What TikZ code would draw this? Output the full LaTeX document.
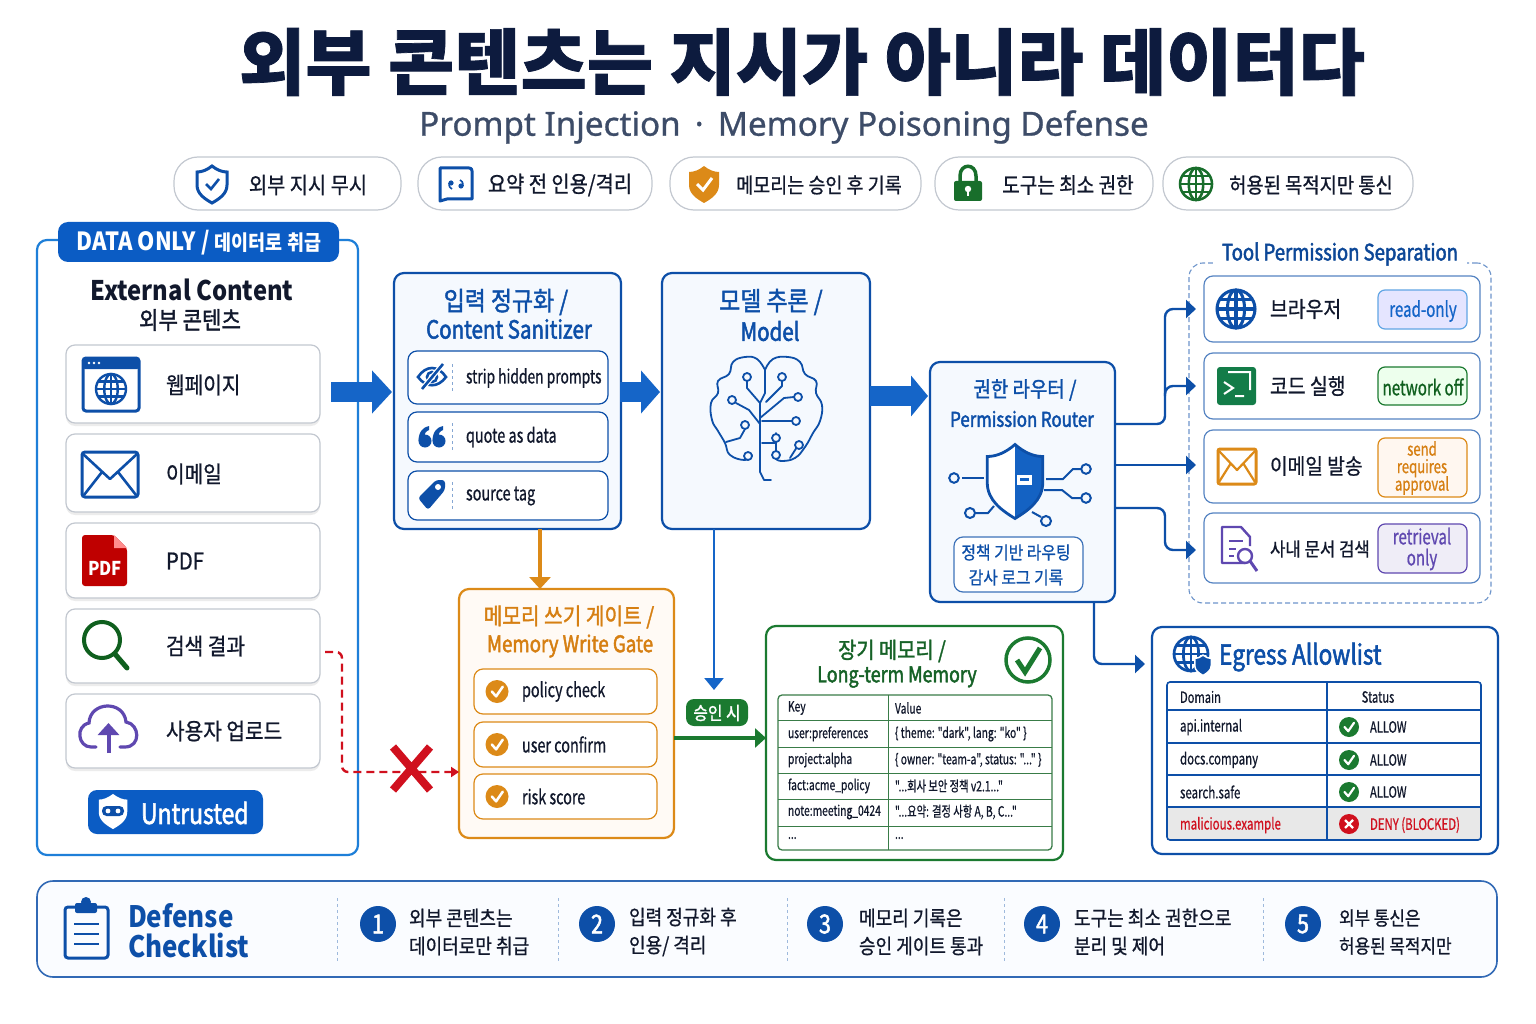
\documentclass[tikz,border=0pt]{standalone}
\usepackage{fontspec}
\setmainfont{Noto Sans CJK KR}[FakeStretch=0.88,FakeBold=0.8,BoldFeatures={FakeBold=0}]
\newfontfamily\titlekr{Noto Sans CJK KR}[FakeBold=1]
\newfontfamily\subfont{Noto Sans}[FakeBold=0.8]
\newfontfamily\nar{Noto Sans CJK KR}[FakeStretch=0.72,FakeBold=0.7]
\newfontfamily\hd{Noto Sans CJK KR}[FakeStretch=0.82,FakeBold=2]
\newfontfamily\hk{Noto Sans CJK KR}[FakeStretch=0.88,FakeBold=1.5]
\usetikzlibrary{arrows.meta,shadows,calc}
\definecolor{ink}{HTML}{11182C}
\definecolor{navy}{HTML}{0D1B3E}
\definecolor{slate}{HTML}{3D4C68}
\definecolor{brand}{HTML}{0D4FA8}
\definecolor{bright}{HTML}{1E7FD8}
\definecolor{solid}{HTML}{0B5CC4}
\definecolor{flowblue}{HTML}{1565C8}
\definecolor{orng}{HTML}{DC8A18}
\definecolor{orngtxt}{HTML}{D67F12}
\definecolor{leaf}{HTML}{1B7A30}
\definecolor{deep}{HTML}{0F5F1E}
\definecolor{vio}{HTML}{5F48B0}
\definecolor{stop}{HTML}{D0101E}
\definecolor{paleb}{HTML}{F5F9FE}
\definecolor{grayline}{HTML}{C3C8D0}
\newcommand{\fsz}[2]{\fontsize{#1}{#2}\selectfont}
\newcommand{\tightlines}{\setlength{\lineskiplimit}{-30pt}}
\newcommand{\rbox}[6]{\node[#1,minimum width={(#5-#3)*1pt},minimum height={(#6-#4)*1pt}] (#2) at ({(#3+#5)/2},{(#4+#6)/2}) {};}
\tikzset{
  every node/.style={inner sep=0pt,outer sep=0pt},
  pill/.style={draw=grayline,line width=1.2pt,fill=white,rounded corners=24pt},
  srcitem/.style={draw=grayline,line width=1.2pt,fill=white,rounded corners=9pt,
    drop shadow={shadow xshift=0pt,shadow yshift=-3pt,opacity=.12,fill=black!60}},
  panel/.style={draw=#1,line width=2.2pt,rounded corners=10pt},
  inner/.style={draw=#1,line width=1.2pt,rounded corners=9pt},
  badge/.style n args={2}{draw=#1,fill=#2,line width=1.2pt,rounded corners=7pt},
  lefttxt/.style={anchor=west,text=ink},
  bigflow/.style={line width=20pt,draw=flowblue,shorten >=2pt,-{Triangle[width=42pt,length=20pt]}},
  flow/.style={line width=2.4pt,draw=brand,rounded corners=8pt,-{Triangle[width=18pt,length=10pt]}},
  tline/.style={line width=1pt},
  celltxt/.style={lefttxt,font=\nar\fsz{14.3}{15}},
  shieldshape/.style={insert path={(0,-18) .. controls (5,-14) and (10,-12) .. (15,-12) -- (15,1)
    .. controls (15,10) and (7,15) .. (0,19) .. controls (-7,15) and (-15,10) .. (-15,1) -- (-15,-12)
    .. controls (-10,-12) and (-5,-14) .. (0,-18) -- cycle}},
}
\newcommand{\globeicon}[4]{\begin{scope}[shift={(#1,#2)},draw=#4,line width=#3*0.16pt]
  \draw (0,0) circle[radius=#3];
  \draw (0,0) ellipse[x radius=#3*0.45,y radius=#3];
  \draw (-#3,0) -- (#3,0);
  \draw (0,-#3) -- (0,#3);
  \draw (-#3*0.87,-#3*0.5) -- (#3*0.87,-#3*0.5);
  \draw (-#3*0.87,#3*0.5) -- (#3*0.87,#3*0.5);
\end{scope}}
\newcommand{\chkdisc}[4]{\fill[#4] (#1,#2) circle[radius=#3];
  \draw[white,line width=#3*0.22pt,line cap=round,line join=round] (#1-#3*0.45,#2) -- (#1-#3*0.08,#2+#3*0.42) -- (#1+#3*0.5,#2-#3*0.42);}
\begin{document}
\begin{tikzpicture}[x=1pt,y=-1pt]
  \useasboundingbox (0,0) rectangle (1536,1024);
  \fill[white] (0,0) rectangle (1536,1024);
  % title
  \node[text=navy,font=\titlekr\bfseries\fsz{72}{72}] (title) at (802,62) {외부 콘텐츠는 지시가 아니라 데이터다};
  \node[text=slate,font=\subfont\fsz{33.2}{36}] (subtitle) at (784,127) {Prompt Injection \,·\, Memory Poisoning Defense};
  % pills
  \rbox{pill}{pilla}{174}{157}{401}{210}
  \rbox{pill}{pillb}{418}{157}{652}{210}
  \rbox{pill}{pillc}{670}{157}{921}{210}
  \rbox{pill}{pilld}{935}{157}{1153}{210}
  \rbox{pill}{pille}{1163}{157}{1413}{210}
  \foreach \nm/\x/\sz/\txt in {a/308/22.5/외부 지시 무시,b/560/22.5/{요약 전 인용/격리},c/819/21/메모리는 승인 후 기록,d/1068/21.7/도구는 최소 권한,e/1311/21.3/허용된 목적지만 통신}
    \node[text=ink,font=\fsz{\sz}{24}] (pilltxt\nm) at (\x,185) {\txt};
  \begin{scope}[shift={(212,184)}]
    \draw[brand,line width=3pt,shieldshape];
    \draw[brand,line width=2.6pt] (-6,0) -- (-1,5) -- (7,-5);
  \end{scope}
  \begin{scope}[shift={(456,184)}]
    \draw[brand,line width=3pt,line join=round] (-14,-16) -- (13,-16) .. controls (15,-16) and (16,-15) .. (16,-13) -- (16,15) -- (-9,15) -- (-16,17) -- (-16,-16) -- cycle;
    \fill[brand] (-5,-1) circle[radius=2.6] (5,2) circle[radius=2.6];
    \draw[brand,line width=1.6pt] (-7,-1) .. controls (-7,3) and (-6,4) .. (-4,5);
    \draw[brand,line width=1.6pt] (7,2) .. controls (7,-2) and (6,-3) .. (4,-4);
  \end{scope}
  \begin{scope}[shift={(704,184)}]
    \fill[orng,shieldshape];
    \draw[white,line width=3pt] (-7,0) -- (-1,6) -- (8,-6);
  \end{scope}
  \begin{scope}[shift={(968,184)}]
    \draw[leaf!90!black,line width=3.5pt] (-8,0) -- (-8,-8) .. controls (-8,-21) and (8,-21) .. (8,-8) -- (8,0);
    \fill[leaf!90!black,rounded corners=2pt] (-14,-3) rectangle (14,17);
    \fill[white] (0,5) circle[radius=3.2];
    \fill[white] (-1.2,5) rectangle (1.2,12);
  \end{scope}
  \globeicon{1196}{184}{16}{leaf!90!black}
  % external content panel
  \rbox{panel=bright,fill=white}{extpanel}{37}{240}{358}{855}
  \rbox{fill=solid,rounded corners=10pt}{extbadge}{58}{222}{339}{262}
  \node[text=white,font=\bfseries\fsz{25}{26}] (extbadgetxt) at (199,243) {DATA ONLY / {\fsz{21}{26}데이터로 취급}};
  \node[text=ink,font=\bfseries\fsz{27}{30}] (exttitle) at (192,290) {External Content};
  \node[text=ink,font=\hk\fsz{24}{26}] (exttitlekr) at (190,320) {외부 콘텐츠};
  \rbox{srcitem}{webitem}{66}{345}{320}{423}
  \rbox{srcitem}{mailitem}{66}{434}{320}{512}
  \rbox{srcitem}{pdfitem}{66}{523}{320}{598}
  \rbox{srcitem}{searchitem}{66}{609}{320}{683}
  \rbox{srcitem}{uploaditem}{66}{694}{320}{768}
  \foreach \nm/\y/\txt in {web/385/웹페이지,mail/474/이메일,pdf/561/PDF,search/646/검색 결과,upload/731/사용자 업로드}
    \node[lefttxt,font=\fsz{23}{26}] (\nm txt) at (166,\y) {\txt};
  \draw[brand,line width=3pt,rounded corners=3pt] (83,358) rectangle (139,411);
  \fill[brand,rounded corners=2pt] (83,358) rectangle (139,369);
  \fill[white] (89,363) circle[radius=1.4] (94,363) circle[radius=1.4] (99,363) circle[radius=1.4];
  \globeicon{111}{389}{15}{brand}
  \draw[brand,line width=3pt,rounded corners=3pt] (82,452) rectangle (138,497);
  \draw[brand,line width=2.6pt,line join=round] (83,454) -- (110,479) -- (137,454) (84,495) -- (102,472) (136,495) -- (118,472);
  \fill[red!75!black,rounded corners=3pt] (82,535) -- (114,535) -- (127,548) -- (127,586) -- (82,586) -- cycle;
  \fill[red!45!white] (114,535) -- (127,548) -- (114,548) -- cycle;
  \node[text=white,font=\bfseries\fsz{19}{20}] (pdfmark) at (105,568) {PDF};
  \draw[deep,line width=4pt] (102,640) circle[radius=18];
  \draw[deep,line width=5pt,line cap=round] (115,654) -- (127,668);
  \draw[vio,line width=3.2pt,line cap=round] (96,747) -- (91,747) .. controls (78,747) and (75,726) .. (89,723) .. controls (90,701) and (124,700) .. (126,722) .. controls (140,724) and (141,747) .. (125,747) -- (120,747);
  \draw[vio,line width=4pt,-{Triangle[width=21pt,length=12pt]}] (108.5,753) -- (108.5,723);
  \rbox{fill=solid,rounded corners=9pt}{untrusted}{88}{790}{263}{834}
  \fill[white,shift={(113,811)},xscale=.95,yscale=.95,shieldshape];
  \fill[brand,rounded corners=4.5pt] (102,806) rectangle (124,816);
  \fill[white] (108,811) circle[radius=2.4] (118,811) circle[radius=2.4];
  \node[lefttxt,text=white,font=\hd\fsz{28}{28}] (untrustedtxt) at (141,813) {Untrusted};
  % sanitizer, model and router
  \rbox{panel=brand,fill=paleb}{sanit}{394}{273}{621}{529}
  \node[text=brand,font=\hk\fsz{26}{28}] (sanitkr) at (506,302) {입력 정규화 /};
  \node[text=brand,font=\hd\fsz{25}{28}] (sanitlat) at (509,329) {Content Sanitizer};
  \rbox{inner=brand,fill=white}{stripitem}{408}{351}{608}{404}
  \rbox{inner=brand,fill=white}{quoteitem}{408}{412}{608}{462}
  \rbox{inner=brand,fill=white}{tagitem}{408}{471}{608}{520}
  \foreach \nm/\y/\sz/\txt in {strip/378/19.2/strip hidden prompts,quote/437/20/quote as data,tag/496/20/source tag} {
    \node[lefttxt,font=\nar\fsz{\sz}{22}] (\nm txt) at (466,\y) {\txt};
    \draw[brand!50,dashed,line width=.8pt] (452,\y-14) -- (452,\y+14);
  }
  \begin{scope}[shift={(432,376)},brand,line width=2.6pt]
    \draw (-14,1) .. controls (-6,-11) and (6,-11) .. (14,1) .. controls (6,12) and (-6,12) .. (-14,1) -- cycle;
    \draw (0,1) circle[radius=5];
    \draw[white,line width=5pt] (-10,13) -- (11,-12);
    \draw (-10,13) -- (11,-12);
  \end{scope}
  \begin{scope}[shift={(432,436)},brand]
    \fill (-7,5) circle[radius=6.5] (7,5) circle[radius=6.5];
    \fill (-13.5,5) .. controls (-13.5,-4) and (-9,-9) .. (-3,-10) -- (-3,-6) .. controls (-6,-5) and (-8,-2) .. (-7,0) -- cycle;
    \fill (0.5,5) .. controls (0.5,-4) and (5,-9) .. (11,-10) -- (11,-6) .. controls (8,-5) and (6,-2) .. (7,0) -- cycle;
  \end{scope}
  \begin{scope}[shift={(432,495)}]
    \fill[brand,rounded corners=3pt] (-14,3) -- (4,-15) -- (13,-15) -- (13,-5) -- (-4,15) -- cycle;
    \fill[white] (6,-8) circle[radius=3];
  \end{scope}
  \coordinate (extout) at (331,392);
  \draw[bigflow] (extout) -- (sanit.west |- extout);
  \rbox{panel=brand,fill=paleb}{model}{662}{273}{870}{529}
  \node[text=brand,font=\hk\fsz{26}{28}] (modelkr) at (771,302) {모델 추론 /};
  \node[text=brand,font=\hd\fsz{25}{28}] (modellat) at (770,331) {Model};
  \coordinate (sanitout) at (620,392);
  \draw[bigflow,-{Triangle[width=42pt,length=19pt]}] (sanitout) -- (model.west |- sanitout);
  \begin{scope}[brand,line width=1.8pt,line cap=round,line join=round]
    \draw plot [smooth, tension=0.75] coordinates {(765,370) (757,359) (745,357) (733,362) (729,374) (718,381) (718,393) (711,403) (712,420) (718,431) (725,443) (730,455) (745,460) (752,455)};
    \draw plot [smooth, tension=0.75] coordinates {(765,370) (773,359) (788,357) (800,362) (805,374) (816,381) (816,393) (822,405) (820,421) (813,433) (805,447) (795,458) (782,461) (776,459)};
    \draw (765,370) -- (765,393) -- (760,403) -- (760,472) -- (764,480) -- (771,480);
    \draw (747,381) -- (747,388) -- (760,403);
    \draw (782,381) -- (782,386) -- (766,402);
    \draw (794,397) -- (784,398) -- (760,418);
    \draw (736,403) -- (749,410) -- (760,424);
    \draw (792,421) -- (762,421);
    \draw (745,429) -- (740,438) -- (726,442);
    \draw (776,433) -- (776,452);
    \draw (776,443) -- (762,443);
    \draw (797,447) -- (790,458);
    \foreach \cx/\cy in {747/377,782/377,732/400,798/397,796/421,745/425,748/456,776/438,776/455,799/445}
      \filldraw[fill=paleb] (\cx,\cy) circle[radius=4];
  \end{scope}
  \rbox{panel=brand,fill=paleb}{router}{930}{362}{1115}{602}
  \node[text=brand,font=\hk\fsz{21.5}{28}] (routerkr) at (1025,390) {권한 라우터 /};
  \node[text=brand,font=\hd\fsz{20.5}{28}] (routerlat) at (1022,419) {Permission Router};
  \coordinate (modelout) at (870,396);
  \draw[bigflow,-{Triangle[width=40pt,length=17pt]}] (modelout) -- (router.west |- modelout);
  \begin{scope}[shift={(1015,480.5)},xscale=1.85,yscale=2]
    \fill[white,shieldshape];
    \begin{scope}
      \clip (0,-20) rectangle (20,22);
      \fill[flowblue!85!brand,shieldshape];
    \end{scope}
    \draw[brand,line width=2.8pt,shieldshape];
    \fill[white] (1.2,-3) -- (9,-3) -- (9,2) -- (1.2,2) -- cycle;
    \fill[flowblue!85!brand] (2.5,-1.2) rectangle (7.5,0.2);
  \end{scope}
  \begin{scope}[brand,line width=2pt]
    \draw (962,478) -- (984,478);
    \draw (954,478) circle[radius=4.8];
    \draw (1046,479) -- (1063,479) -- (1073,469) -- (1081,469);
    \draw (1086,469) circle[radius=4.8];
    \draw (1044,490) -- (1062,490) -- (1072,498) -- (1081,498);
    \draw (1086,498) circle[radius=4.8];
    \draw (976,513) -- (988,513) -- (994,506);
    \draw (970,513) circle[radius=5];
    \draw (1032,512) -- (1041,517);
    \draw (1046,521) circle[radius=5];
  \end{scope}
  \rbox{inner=brand!80,fill=white}{policy}{954}{537}{1083}{592}
  \node[text=brand,align=center,font=\fsz{18}{25}] (policytxt) at (1016,565) {정책 기반 라우팅\\감사 로그 기록};
  % tool permissions
  \rbox{draw=brand!60,dash pattern=on 5pt off 3pt,line width=1.1pt,rounded corners=14pt}{toolgroup}{1189}{263}{1491}{603}
  \node[fill=white,inner xsep=9pt,inner ysep=2pt,text=brand!90!black,font=\hd\fsz{22.6}{25}] (tooltitle) at (1340,254) {Tool Permission Separation};
  \rbox{inner=brand!70,fill=white}{browser}{1204}{276}{1480}{342}
  \rbox{inner=brand!70,fill=white}{coderun}{1204}{353}{1480}{419}
  \rbox{inner=brand!70,fill=white}{mailsend}{1204}{430}{1480}{503}
  \rbox{inner=brand!70,fill=white}{docsearch}{1204}{513}{1480}{583}
  \foreach \nm/\y/\sz/\txt in {browser/309/22/브라우저,coderun/386/22/코드 실행,mailsend/466/21.8/이메일 발송,docsearch/549/19/사내 문서 검색}
    \node[lefttxt,font=\fsz{\sz}{25}] (\nm txt) at (1270,\y) {\txt};
  \rbox{badge={bright!70}{blue!10!white}}{readbadge}{1378}{290}{1467}{329}
  \rbox{badge={leaf}{green!7!white}}{netbadge}{1378}{367}{1467}{405}
  \rbox{badge={orng}{orange!6!white}}{sendbadge}{1378}{438}{1467}{497}
  \rbox{badge={vio}{vio!10!white}}{retrbadge}{1378}{524}{1467}{573}
  \node[text=flowblue,font=\nar\fsz{21}{22}] (readtxt) at (1423,311) {read-only};
  \node[text=deep,font=\nar\fsz{21}{22}] (nettxt) at (1423,387) {network off};
  \node[text=orngtxt,align=center,font=\nar\fsz{18.2}{17.5}\tightlines] (sendtxt) at (1422,468) {send\\requires\\approval};
  \node[text=vio,align=center,font=\nar\fsz{21}{21}\tightlines] (retrtxt) at (1422,549) {retrieval\\only};
  \globeicon{1236}{309}{19}{brand}
  \fill[leaf!70!teal,rounded corners=3pt] (1217,367) rectangle (1256,405);
  \draw[white,line width=2pt] (1224,382) -- (1233,388) -- (1224,394) (1235,396) -- (1244,396) (1228,372) -- (1250,372) -- (1250,390);
  \draw[orng,line width=3pt,rounded corners=2pt] (1218,449) rectangle (1256,484);
  \draw[orng,line width=2.2pt,line join=round] (1219,451) -- (1237,470) -- (1255,451) (1219,482) -- (1231,463) (1255,482) -- (1243,463);
  \draw[vio,line width=2.4pt,line join=round] (1245,563) -- (1222,563) -- (1222,527) -- (1241,527) -- (1250,537) -- (1250,546);
  \draw[vio,line width=2pt] (1229,541) -- (1243,541) (1229,549) -- (1236,549) (1229,556) -- (1234,556);
  \draw[vio,line width=2.4pt] (1245,556) circle[radius=7];
  \draw[vio,line width=3pt] (1250,561) -- (1257,571);
  \coordinate (routera) at (1115,424);
  \coordinate (routerb) at (1115,465);
  \coordinate (routerc) at (1115,508);
  \coordinate (busup) at (1165,330);
  \coordinate (busmid) at (1165,396);
  \coordinate (busdown) at (1165,530);
  \draw[flow,shorten >=8pt] (routera) -| (busup) |- (browser.west);
  \draw[flow,shorten >=8pt] (busmid) |- (coderun.west);
  \draw[flow,shorten >=8pt] (routerb) -- (mailsend.west |- routerb);
  \draw[flow,shorten >=8pt] (routerc) -| (busdown) |- (docsearch.west |- 0,550);
  % memory gate
  \rbox{panel=orng,fill=orange!4!white}{gate}{459}{589}{674}{838}
  \node[text=orngtxt,font=\hk\fsz{23}{26}] (gatekr) at (569,617) {메모리 쓰기 게이트 /};
  \node[text=orngtxt,font=\hd\fsz{22.8}{26}] (gatelat) at (570,646) {Memory Write Gate};
  \foreach \nm/\ya/\yb/\ym/\txt in {pol/669/714/691.5/policy check,usr/722/767/744.5/user confirm,rsk/774/819/796.5/risk score} {
    \rbox{inner=orng,fill=white}{\nm item}{474}{\ya}{657}{\yb}
    \chkdisc{497}{\ym}{11.5}{orng}
    \node[lefttxt,font=\nar\fsz{20}{22}] (\nm txt) at (522,\ym) {\txt};
  }
  \coordinate (sanitdown) at (540,529);
  \draw[orng,line width=3.5pt,-{Triangle[width=21pt,length=12pt]}] (sanitdown) -- (gate.north -| sanitdown);
  % blocked path
  \coordinate (blockstart) at (325,652);
  \coordinate (blockbend) at (342,772);
  \coordinate (gatein) at (459,772);
  \draw[stop,line width=2.4pt,dash pattern=on 8pt off 5pt,rounded corners=6pt,-{Triangle[width=10pt,length=8pt]}] (blockstart) -| (blockbend) -- (gatein);
  \draw[stop,line width=8pt] (393,747) -- (430,790) (430,747) -- (393,790);
  % long-term memory
  \rbox{panel=leaf,fill=white}{memory}{766}{626}{1063}{860}
  \node[text=leaf!80!black,font=\hk\fsz{22.5}{26}] (memorykr) at (892,651) {장기 메모리 /};
  \node[text=leaf!80!black,font=\hd\fsz{21.8}{26}] (memorylat) at (897,677) {Long-term Memory};
  \draw[leaf,line width=3.5pt] (1028,660) circle[radius=22];
  \draw[leaf,line width=5pt] (1017,660) -- (1025,672) -- (1040,648);
  \coordinate (modeldown) at (714,529);
  \coordinate (approvetop) at (714,690);
  \draw[flowblue,line width=2.4pt,-{Triangle[width=19pt,length=12pt]}] (modeldown) -- (approvetop);
  \rbox{fill=leaf,rounded corners=8pt}{approve}{686}{699}{748}{726}
  \node[text=white,font=\hk\fsz{18}{20}] (approvetxt) at (717,713) {승인 시};
  \coordinate (gateout) at (gate.east |- 0,738);
  \draw[leaf,line width=4.5pt,-{Triangle[width=19pt,length=11pt]}] (gateout) -- (memory.west |- gateout);
  \rbox{draw=leaf!70!gray,line width=1.3pt,rounded corners=4pt}{memtable}{778}{695}{1052}{850}
  \foreach \y in {720,747,773,799,826}
    \draw[leaf!70!gray,tline] (778,\y) -- (1052,\y);
  \draw[leaf!70!gray,tline] (888,695) -- (888,850);
  \node[celltxt] (keya) at (788,708) {Key};
  \node[celltxt] (vala) at (895,708) {Value};
  \node[celltxt] (keyb) at (788,734) {user:preferences};
  \node[celltxt] (valb) at (895,734) {\{ theme: "dark", lang: "ko" \}};
  \node[celltxt] (keyc) at (788,760) {project:alpha};
  \node[celltxt] (valc) at (895,760) {\{ owner: "team-a", status: "..." \}};
  \node[celltxt] (keyd) at (788,786) {fact:acme\_policy};
  \node[celltxt] (vald) at (895,786) {"...회사 보안 정책 v2.1..."};
  \node[celltxt] (keye) at (788,812) {note:meeting\_0424};
  \node[celltxt] (vale) at (895,812) {"...요약: 결정 사항 A, B, C..."};
  \node[celltxt] (keyf) at (788,838) {...};
  \node[celltxt] (valf) at (895,838) {...};
  % egress allowlist
  \rbox{panel=brand,fill=white}{egress}{1152}{627}{1498}{854}
  \node[anchor=west,text=brand,font=\hd\fsz{27.5}{28}] (egresstitle) at (1219,657) {Egress Allowlist};
  \globeicon{1191}{654}{17}{brand}
  \begin{scope}[shift={(1203,665)},scale=.55]
    \filldraw[fill=brand,draw=white,line width=1.5pt,shieldshape];
  \end{scope}
  \coordinate (routerdown) at (1094,602);
  \draw[flow,shorten >=7pt] (routerdown) |- (egress.west |- 0,664);
  \fill[gray!18] (1167,807) rectangle (1481,840);
  \rbox{draw=brand,line width=1.6pt,rounded corners=3pt}{egtable}{1167}{682}{1481}{840}
  \foreach \y in {710,743,775,807}
    \draw[brand,line width=1.3pt] (1167,\y) -- (1481,\y);
  \draw[brand,line width=1.3pt] (1327,682) -- (1327,840);
  \node[lefttxt,font=\nar\fsz{15.5}{16}] (domhead) at (1180,697) {Domain};
  \node[text=ink,font=\nar\fsz{15.5}{16}] (stathead) at (1378,697) {Status};
  \foreach \nm/\y/\txt in {api/727/api.internal,docs/760/docs.company,safe/792/search.safe} {
    \node[lefttxt,font=\nar\fsz{16}{16}] (\nm dom) at (1180,\y) {\txt};
    \chkdisc{1349}{\y}{10}{leaf}
    \node[lefttxt,font=\nar\fsz{15.5}{16}] (\nm stat) at (1370,\y) {ALLOW};
  }
  \node[lefttxt,text=stop,font=\nar\fsz{16}{16}] (baddom) at (1180,825) {malicious.example};
  \fill[stop] (1349,824) circle[radius=10];
  \draw[white,line width=2.2pt] (1345,820) -- (1353,828) (1353,820) -- (1345,828);
  \node[lefttxt,text=stop,font=\nar\fsz{15.8}{16}] (badstat) at (1370,825) {DENY (BLOCKED)};
  % checklist
  \rbox{draw=brand!85,line width=1.6pt,fill=paleb!50,rounded corners=16pt}{checklist}{37}{881}{1497}{977}
  \draw[brand,line width=3pt,rounded corners=3pt] (65,907) rectangle (108,958);
  \fill[brand,rounded corners=2pt] (75,903) rectangle (97,913);
  \fill[brand] (86,902) circle[radius=5];
  \draw[brand,line width=2.6pt] (74,924) -- (99,924) (74,934) -- (99,934) (74,944) -- (99,944);
  \node[anchor=west,text=brand,align=left,font=\bfseries\fsz{29.5}{30}] (defense) at (128,931) {Defense\\Checklist};
  \foreach \x in {337,558,787,1004,1263}
    \draw[brand!40,dashed,line width=.9pt] (\x,898) -- (\x,962);
  \foreach \n/\cx/\tx/\sz/\txta/\txtb in {1/378/409/20.5/외부 콘텐츠는/데이터로만 취급,2/597/629/20.5/입력 정규화 후/{인용/ 격리},3/825/859/20.5/메모리 기록은/승인 게이트 통과,4/1042/1074/20.5/도구는 최소 권한으로/분리 및 제어,5/1303/1339/19.2/외부 통신은/허용된 목적지만} {
    \node[circle,fill=brand,minimum size=36pt,text=white,font=\hd\fsz{26}{26}] (num\n) at (\cx,924) {\n};
    \node[anchor=west,align=left,text=ink,font=\fsz{\sz}{28}] (chk\n) at (\tx,932) {\txta\\\txtb};
  }
\end{tikzpicture}
\end{document}
